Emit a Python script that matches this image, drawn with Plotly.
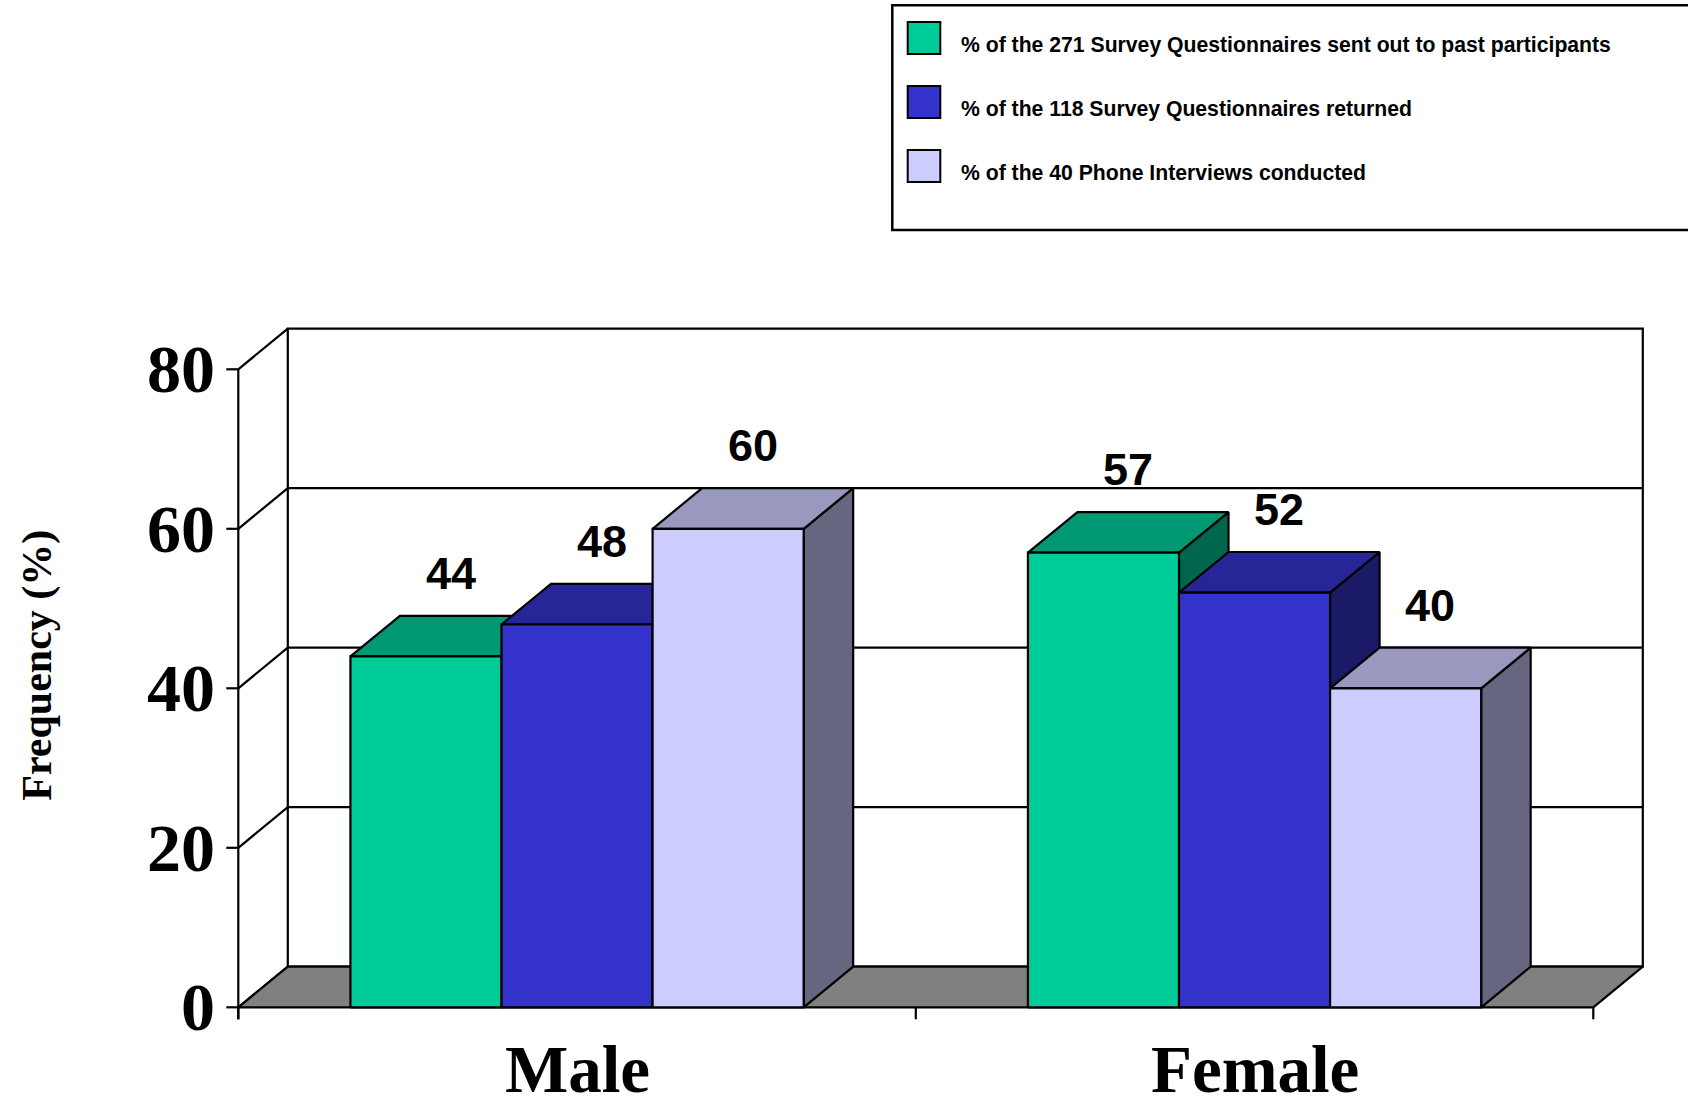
import plotly.graph_objects as go

# ---- data ----
categories = ["Male", "Female"]
series_names = [
    "% of the 271 Survey Questionnaires sent out to past participants",
    "% of the 118 Survey Questionnaires returned",
    "% of the 40 Phone Interviews conducted",
]
sent_out = [44, 57]
returned = [48, 52]
phone = [60, 40]
series_values = [sent_out, returned, phone]
y_ticks = [0, 20, 40, 60, 80]
y_title = "Frequency (%)"

front_colors = ["#00CC99", "#3333CC", "#CCCCFF"]


def shade(hex_color, k):
    r, g, b = (int(hex_color[i:i + 2], 16) for i in (1, 3, 5))
    return "#%02X%02X%02X" % (round(r * k), round(g * k), round(b * k))


# ---- geometry of the pseudo-3D frame ----
W, H = 1688, 1107
X0_PX, X_SCALE = 238.3, 677.5      # pixel of the front-left corner, pixels per category
Y0_PX, Y_SCALE = 1007.3, 7.975     # pixel of value 0, pixels per percent
DX = 49.5 / X_SCALE                # depth offset (x, axis units)
DY = 40.6 / Y_SCALE                # depth offset (y, axis units)
BAR_W = 0.223
Y_MAX = y_ticks[-1]
N_CAT = len(categories)
TICK_X = 12 / X_SCALE
TICK_Y = 12 / Y_SCALE
LABEL_LIFT = 83 / Y_SCALE
LW = 2.2

x_range = [-X0_PX / X_SCALE, (W - X0_PX) / X_SCALE]
y_range = [-(H - Y0_PX) / Y_SCALE, Y0_PX / Y_SCALE]

fig = go.Figure()


def poly(xs, ys, fill):
    fig.add_trace(go.Scatter(
        x=list(xs) + [xs[0]], y=list(ys) + [ys[0]], mode="lines",
        fill="toself", fillcolor=fill,
        line=dict(color="black", width=LW),
        hoverinfo="skip", showlegend=False))


def segs(pairs, width=LW):
    xs, ys = [], []
    for (xa, ya), (xb, yb) in pairs:
        xs += [xa, xb, None]
        ys += [ya, yb, None]
    fig.add_trace(go.Scatter(
        x=xs, y=ys, mode="lines", line=dict(color="black", width=width),
        hoverinfo="skip", showlegend=False))


# back wall with gridlines
poly([DX, N_CAT + DX, N_CAT + DX, DX], [DY, DY, Y_MAX + DY, Y_MAX + DY], "white")
segs([((DX, v + DY), (N_CAT + DX, v + DY)) for v in y_ticks[1:-1]])
# left wall diagonals, front value axis and its ticks
segs([((0, v), (DX, v + DY)) for v in y_ticks])
segs([((0, -TICK_Y), (0, Y_MAX))])
segs([((-TICK_X, v), (0, v)) for v in y_ticks])
# floor
poly([0, N_CAT, N_CAT + DX, DX], [0, 0, DY, DY], "#808080")
segs([((c, 0), (c, -TICK_Y)) for c in range(N_CAT + 1)])

# bars: side, top, front faces, drawn left to right
annotations = []
for ci in range(N_CAT):
    for si, vals in enumerate(series_values):
        v = vals[ci]
        center = ci + 0.5 + (si - 1) * BAR_W
        left, right = center - BAR_W / 2, center + BAR_W / 2
        col = front_colors[si]
        poly([right, right + DX, right + DX, right], [0, DY, v + DY, v], shade(col, 0.5))
        poly([left, right, right + DX, left + DX], [v, v, v + DY, v + DY], shade(col, 0.75))
        poly([left, right, right, left], [0, 0, v, v], col)
        annotations.append(dict(
            x=center + DX / 2, y=v + LABEL_LIFT, text=str(v), showarrow=False,
            xanchor="center", yanchor="middle",
            font=dict(family="Liberation Sans", size=45, color="black", weight="bold")))

# value axis tick labels
for v in y_ticks:
    annotations.append(dict(
        x=-TICK_X - 9 / X_SCALE, y=v, text=str(v), showarrow=False,
        xanchor="right", yanchor="middle",
        font=dict(family="Liberation Serif", size=68, color="black", weight="bold")))

# category labels
for ci, name in enumerate(categories):
    annotations.append(dict(
        x=ci + 0.5, y=-(1069 - Y0_PX) / Y_SCALE, text=name, showarrow=False,
        xanchor="center", yanchor="middle",
        font=dict(family="Liberation Serif", size=67, color="black", weight="bold")))

# value axis title
annotations.append(dict(
    xref="paper", yref="paper", x=36.7 / W, y=1 - 665 / H, text=y_title,
    showarrow=False, textangle=-90, xanchor="center", yanchor="middle",
    font=dict(family="Liberation Serif", size=42, color="black", weight="bold")))

# legend box
shapes = [dict(type="rect", xref="paper", yref="paper",
               x0=892.3 / W, x1=1.01, y0=1 - 230 / H, y1=1 - 5.3 / H,
               line=dict(color="black", width=2.5), fillcolor="white", layer="above")]
for si, name in enumerate(series_names):
    top = 22 + 64 * si
    shapes.append(dict(type="rect", xref="paper", yref="paper",
                       x0=907.7 / W, x1=940.3 / W, y0=1 - (top + 32) / H, y1=1 - top / H,
                       line=dict(color="black", width=2), fillcolor=front_colors[si],
                       layer="above"))
    annotations.append(dict(
        xref="paper", yref="paper", x=959 / W, y=1 - (44.7 + 64 * si) / H, text=name,
        showarrow=False, xanchor="left", yanchor="middle",
        font=dict(family="Liberation Sans", size=21.2, color="black", weight="bold")))

fig.update_layout(
    width=W, height=H,
    margin=dict(l=0, r=0, t=0, b=0),
    paper_bgcolor="white", plot_bgcolor="white",
    xaxis=dict(range=x_range, visible=False, fixedrange=True),
    yaxis=dict(range=y_range, visible=False, fixedrange=True),
    annotations=annotations, shapes=shapes, showlegend=False,
)

fig.write_html("out.html")
